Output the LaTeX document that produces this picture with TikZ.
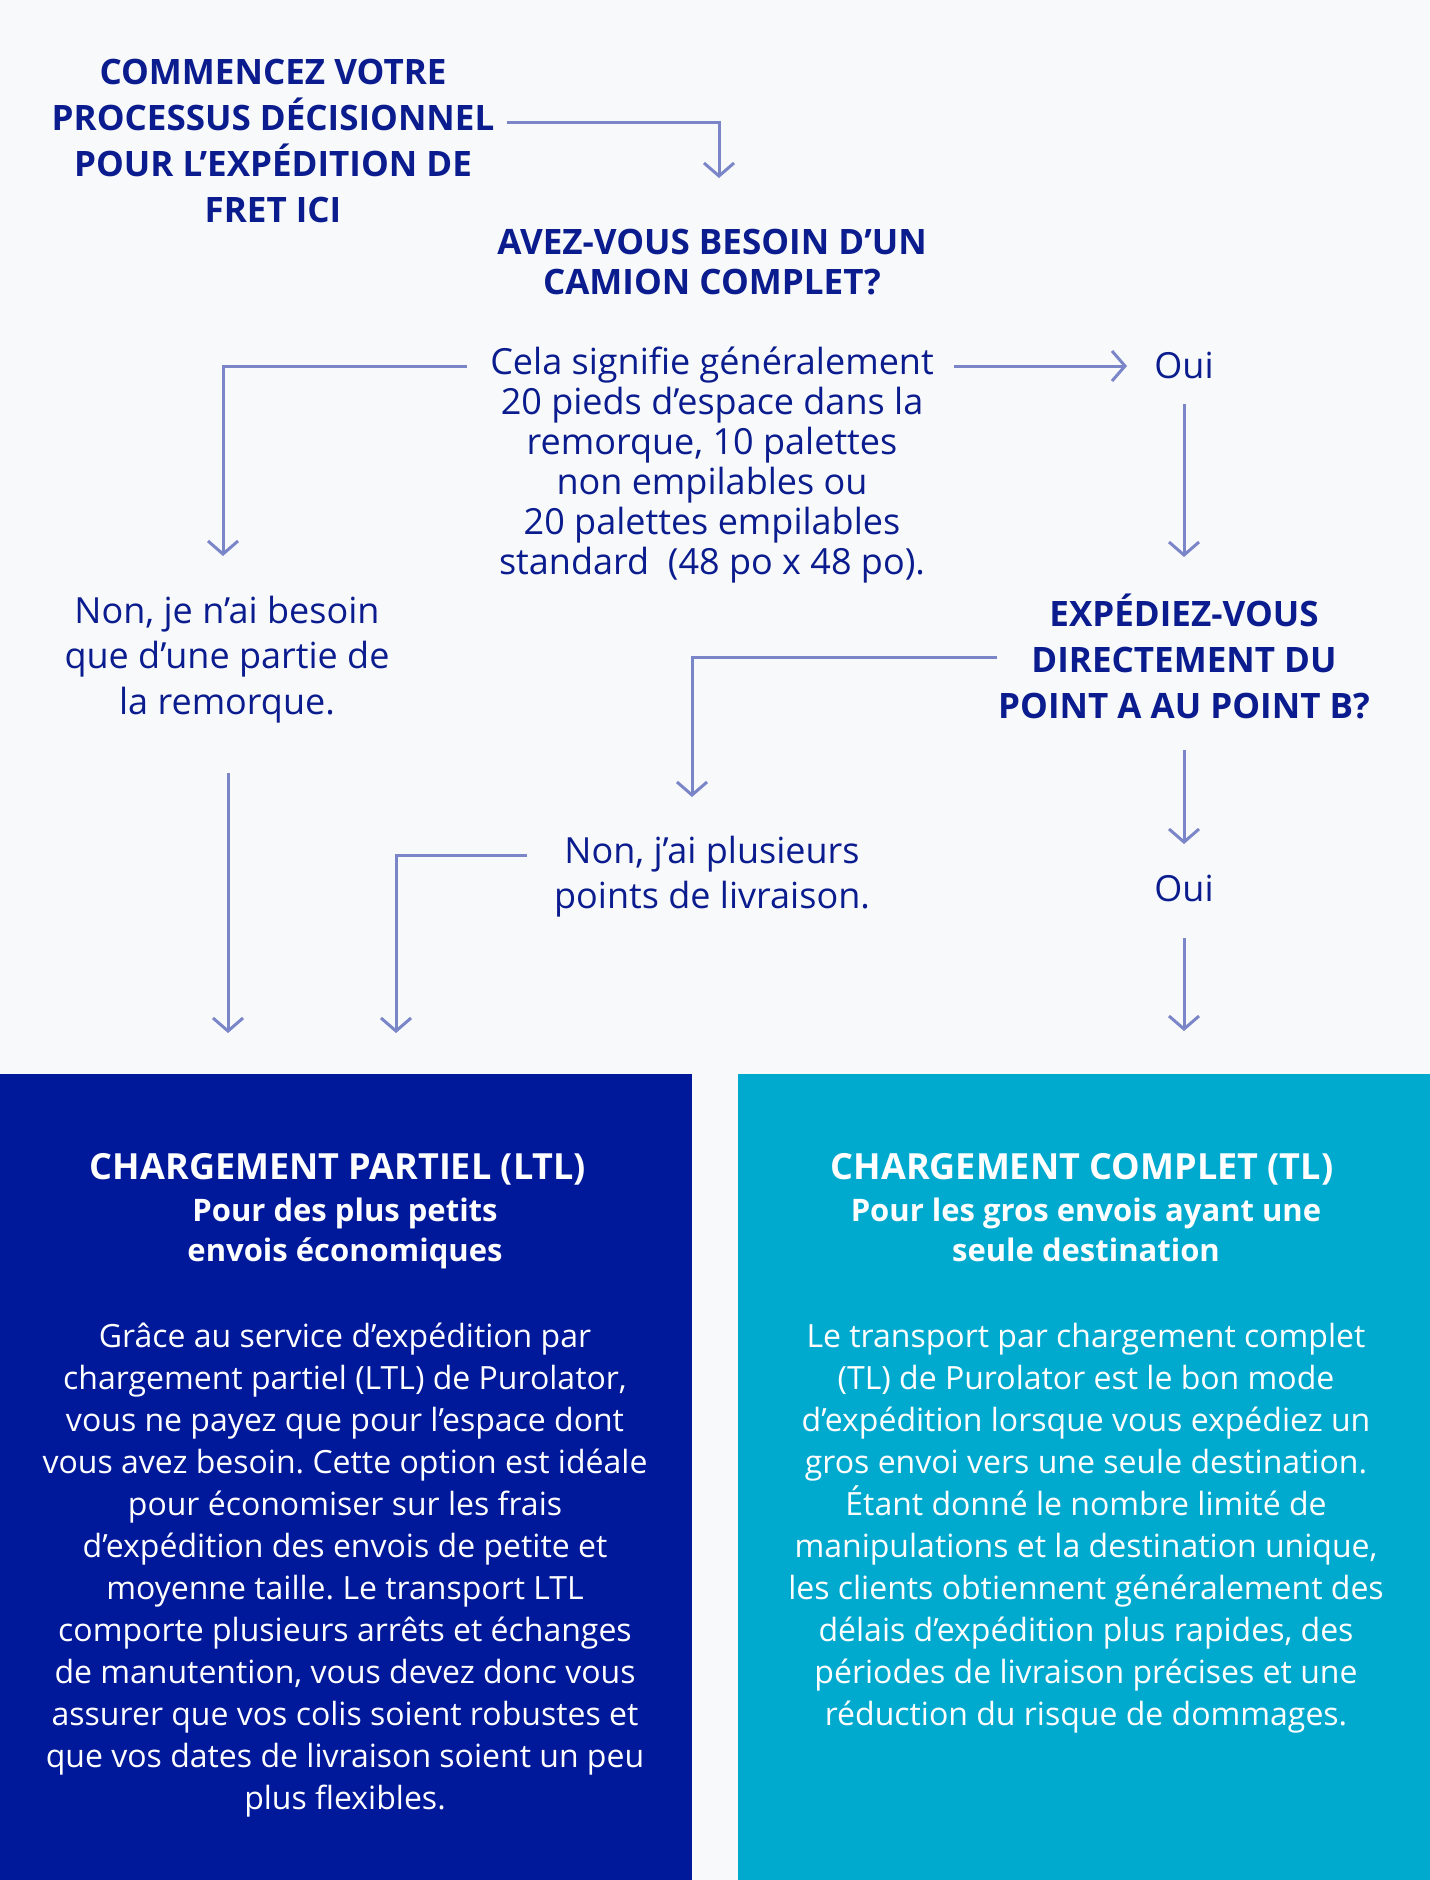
\documentclass[tikz,border=0pt]{standalone}
\usepackage{fontspec}
\setmainfont{Open Sans}
\usetikzlibrary{arrows.meta}
\definecolor{bg}{HTML}{F8F9FB}
\definecolor{txt}{HTML}{0A1C8E}
\definecolor{navy}{HTML}{00189A}
\definecolor{cyanbox}{HTML}{00AACF}
\definecolor{flow}{HTML}{7B86C8}
\newcommand{\mlines}[1]{\begin{tabular}[t]{@{}c@{}}#1\end{tabular}}
\frenchspacing
\tikzset{
  conn/.style={draw=flow, line width=1.5pt, -{Straight Barb[length=6.5pt,width=15pt,line width=1.5pt]}},
  txtbase/.style={anchor=base, inner sep=0pt, text=txt},
  qhead/.style={txtbase, font=\fontsize{17.5}{23}\selectfont\bfseries},
  qhead2/.style={txtbase, font=\fontsize{17.5}{20}\selectfont\bfseries},
  ans/.style={txtbase, font=\fontsize{18}{22.9}\selectfont},
  expl/.style={txtbase, font=\fontsize{18}{20}\selectfont},
  boxshape/.style={anchor=north west, inner sep=0pt, draw=none, minimum width=346pt, minimum height=403pt},
  btitle/.style={anchor=base, inner sep=0pt, text=white, font=\fontsize{18}{20}\selectfont\bfseries},
  bsub/.style={anchor=base, inner sep=0pt, text=white, font=\fontsize{15.5}{20}\selectfont\bfseries},
  bbody/.style={anchor=base, inner sep=0pt, text=white, font=\fontsize{16}{21}\selectfont},
}
\begin{document}
\begin{tikzpicture}[x=0.5pt,y=-0.5pt]
\fill[bg] (0,0) rectangle (1430,1880);
\useasboundingbox (0,0) rectangle (1430,1880);

% boxes
\node[boxshape, fill=navy] (ltlbox) at (0,1074) {};
\node[boxshape, fill=cyanbox] (tlbox) at (738,1074) {};

% texts
\node[qhead] (start) at (273,84) {\mlines{COMMENCEZ VOTRE\\PROCESSUS DÉCISIONNEL\\POUR L’EXPÉDITION DE\\FRET ICI}};
\node[qhead2] (q1) at (712,254.5) {\mlines{AVEZ-VOUS BESOIN D’UN\\CAMION COMPLET?}};
\node[expl] (q1info) at (712,374) {\mlines{Cela signifie généralement\\20 pieds d’espace dans la\\remorque, 10 palettes\\non empilables ou\\20 palettes empilables\\standard\ \ (48 po x 48 po).}};
\node[ans] (oui1) at (1184,378) {Oui};
\node[ans] (non1) at (227,623) {\mlines{Non, je n’ai besoin\\que d’une partie de\\la remorque.}};
\node[qhead] (q2) at (1184,626) {\mlines{EXPÉDIEZ-VOUS\\DIRECTEMENT DU\\POINT A AU POINT B?}};
\node[ans] (oui2) at (1184,901) {Oui};
\node[ans] (non2) at (712,863) {\mlines{Non, j’ai plusieurs\\points de livraison.}};

% left box text
\node[btitle] (ltltitle) at (338,1179) {CHARGEMENT PARTIEL (LTL)};
\node[bsub] (ltlsub) at (345,1221) {\mlines{Pour des plus petits\\envois économiques}};
\node[bbody] (ltlbody) at (345,1347) {\mlines{Grâce au service d’expédition par\\chargement partiel (LTL) de Purolator,\\vous ne payez que pour l’espace dont\\vous avez besoin. Cette option est idéale\\pour économiser sur les frais\\d’expédition des envois de petite et\\moyenne taille. Le transport LTL\\comporte plusieurs arrêts et échanges\\de manutention, vous devez donc vous\\assurer que vos colis soient robustes et\\que vos dates de livraison soient un peu\\plus flexibles.}};

% right box text
\node[btitle] (tltitle) at (1082,1179) {CHARGEMENT COMPLET (TL)};
\node[bsub] (tlsub) at (1086,1221) {\mlines{Pour les gros envois ayant une\\seule destination}};
\node[bbody] (tlbody) at (1086,1347) {\mlines{Le transport par chargement complet\\(TL) de Purolator est le bon mode\\d’expédition lorsque vous expédiez un\\gros envoi vers une seule destination.\\Étant donné le nombre limité de\\manipulations et la destination unique,\\les clients obtiennent généralement des\\délais d’expédition plus rapides, des\\périodes de livraison précises et une\\réduction du risque de dommages.}};

% connector points
\coordinate (s1) at (507,122);  \coordinate (t1) at (719,178);
\coordinate (s2) at (467,366);  \coordinate (t2) at (223,556);
\coordinate (s3) at (954,366);  \coordinate (t3) at (1127,366);
\coordinate (s4) at (1184,404); \coordinate (t4) at (1184,557);
\coordinate (s5) at (997,657);  \coordinate (t5) at (692,797);
\coordinate (s6) at (1184,750); \coordinate (t6) at (1184,844);
\coordinate (s7) at (1184,938); \coordinate (t7) at (1184,1031);
\coordinate (s8) at (527,855);  \coordinate (t8) at (396,1033);
\coordinate (s9) at (228,773);  \coordinate (t9) at (228,1033);

\draw[conn] (s1) -| (t1);
\draw[conn] (s2) -| (t2);
\draw[conn] (s3) -- (t3);
\draw[conn] (s4) -- (t4);
\draw[conn] (s5) -| (t5);
\draw[conn] (s6) -- (t6);
\draw[conn] (s7) -- (t7);
\draw[conn] (s8) -| (t8);
\draw[conn] (s9) -- (t9);
\end{tikzpicture}
\end{document}
